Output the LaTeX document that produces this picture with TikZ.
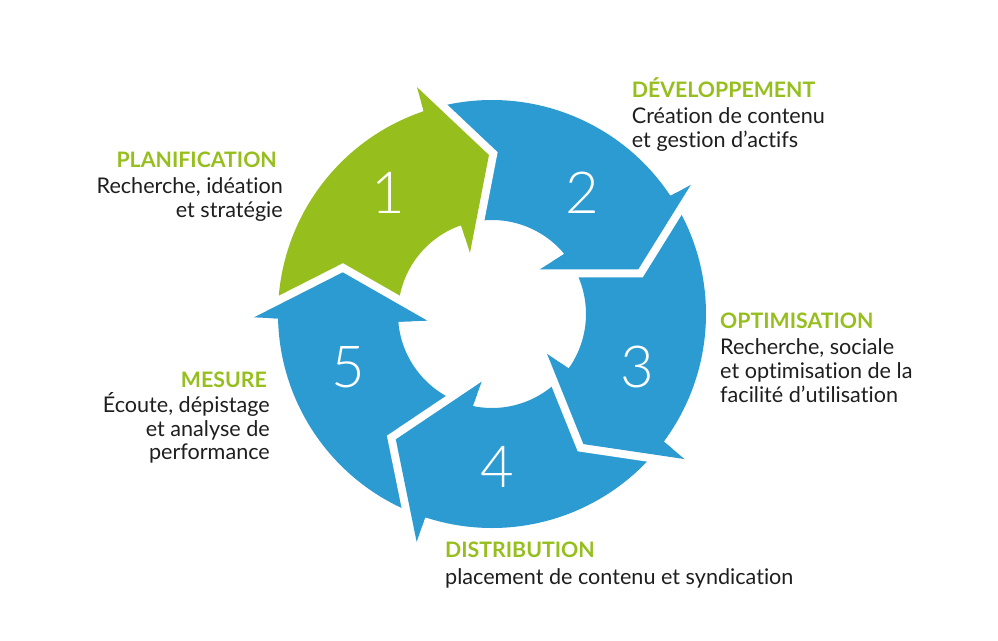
\documentclass[tikz,border=0pt]{standalone}
\usepackage{fontspec}
\setmainfont{Lato}[Ligatures=NoCommon]
\newfontfamily\numfont{Lato Light}
\definecolor{cycgreen}{RGB}{150,191,30}
\definecolor{cycblue}{RGB}{43,155,210}
\definecolor{txtdark}{RGB}{30,30,30}
\newcommand{\hd}[1]{{\color{cycgreen}\bfseries\fontsize{21.3}{23.7}\selectfont #1}}
\tikzset{
  num/.style={text=white,font=\numfont\fontsize{58}{58}\selectfont,inner sep=0pt},
  lbl/.style={inner sep=0pt,text=txtdark,font=\fontsize{21.6}{23.7}\selectfont},
  gap/.style={draw=white,line width=16pt,line join=miter},
}
\begin{document}
\begin{tikzpicture}[x=1pt,y=1pt]
\useasboundingbox (-492,-326) rectangle (506,314);
% arrow heads: outer barb, tip, inner barb
\coordinate (o1) at (108.3:239pt); \coordinate (t1) at (91.1:159pt);  \coordinate (i1) at (109.8:65pt);
\coordinate (o2) at (33:237pt);    \coordinate (t2) at (17:153pt);    \coordinate (i2) at (43:65.6pt);
\coordinate (o3) at (-37:241pt);   \coordinate (t3) at (-54.9:159pt); \coordinate (i3) at (-35.9:68pt);
\coordinate (o4) at (-108.3:240pt);\coordinate (t4) at (-127.5:158pt);\coordinate (i4) at (-98.7:68.5pt);
\coordinate (o5) at (-179.2:238pt);\coordinate (t5) at (-195.6:155pt);\coordinate (i5) at (-174.1:65pt);
% ring parts
\fill[cycgreen] (181.2:214pt) arc[start angle=181.2,end angle=108.6,radius=214pt] -- (o1) -- (t1) -- (i1)
  -- (109.2:94pt) arc[start angle=109.2,end angle=184.7,radius=94pt] -- cycle;
\fill[cycblue] (108.6:214pt) arc[start angle=108.6,end angle=33.5,radius=214pt] -- (o2) -- (t2) -- (i2)
  -- (39.7:94pt) arc[start angle=39.7,end angle=109.2,radius=94pt] -- cycle;
\fill[cycblue] (33.5:214pt) arc[start angle=33.5,end angle=-36.6,radius=214pt] -- (o3) -- (t3) -- (i3)
  -- (-35.4:94pt) arc[start angle=-35.4,end angle=39.7,radius=94pt] -- cycle;
\fill[cycblue] (-36.6:214pt) arc[start angle=-36.6,end angle=-108.2,radius=214pt] -- (o4) -- (t4) -- (i4)
  -- (-101.8:94pt) arc[start angle=-101.8,end angle=-35.4,radius=94pt] -- cycle;
\fill[cycblue] (-108.2:214pt) arc[start angle=-108.2,end angle=-178.8,radius=214pt] -- (o5) -- (t5) -- (i5)
  -- (-175.3:94pt) arc[start angle=-175.3,end angle=-101.8,radius=94pt] -- cycle;
% white gaps round the heads, then the heads again (a little longer, to hide the seam)
\foreach \k in {1,...,5} \draw[gap] (o\k) -- (t\k) -- (i\k);
\fill[cycgreen] (111:212pt) -- (108.6:214pt) -- (o1) -- (t1) -- (i1) -- (109.2:94pt) -- (114:96pt) -- cycle;
\fill[cycblue] (36:212pt) -- (33.5:214pt) -- (o2) -- (t2) -- (i2) -- (39.7:94pt) -- (44:96pt) -- cycle;
\fill[cycblue] (-34:212pt) -- (-36.6:214pt) -- (o3) -- (t3) -- (i3) -- (-35.4:94pt) -- (-31:96pt) -- cycle;
\fill[cycblue] (-105.5:212pt) -- (-108.2:214pt) -- (o4) -- (t4) -- (i4) -- (-101.8:94pt) -- (-97:96pt) -- cycle;
\fill[cycblue] (-176:212pt) -- (-178.8:214pt) -- (o5) -- (t5) -- (i5) -- (-175.3:94pt) -- (-171:96pt) -- cycle;
% numbers
\node[num] (n1) at (-104,121) {1};
\node[num] (n2) at (90,121) {2};
\node[num] (n3) at (145,-53) {3};
\node[num] (n4) at (5,-153) {4};
\node[num] (n5) at (-144,-53) {5};
% labels (placed at the baseline of their last line)
\node[lbl,align=right,anchor=base east] (plan) at (-209,97)
  {\hd{PLANIFICATION}\hspace*{6pt}\\[2.5pt]Recherche, idéation\\et stratégie};
\node[lbl,align=left,anchor=base west] (dev) at (139.7,166.3)
  {\hd{DÉVELOPPEMENT}\\[2.5pt]Création de contenu\\et gestion d’actifs};
\node[lbl,align=left,anchor=base west] (optim) at (228,-88.2)
  {\hd{OPTIMISATION}\\[2.5pt]Recherche, sociale\\et optimisation de la\\facilité d’utilisation};
\node[lbl,align=right,anchor=base east] (mesure) at (-222,-145.7)
  {\hd{MESURE}\hspace*{3pt}\\[1pt]Écoute, dépistage\\et analyse de\\performance};
\node[lbl,align=left,anchor=base west] (distrib) at (-47,-270)
  {\hd{DISTRIBUTION}\\[2.5pt]placement de contenu et syndication};
\end{tikzpicture}
\end{document}
